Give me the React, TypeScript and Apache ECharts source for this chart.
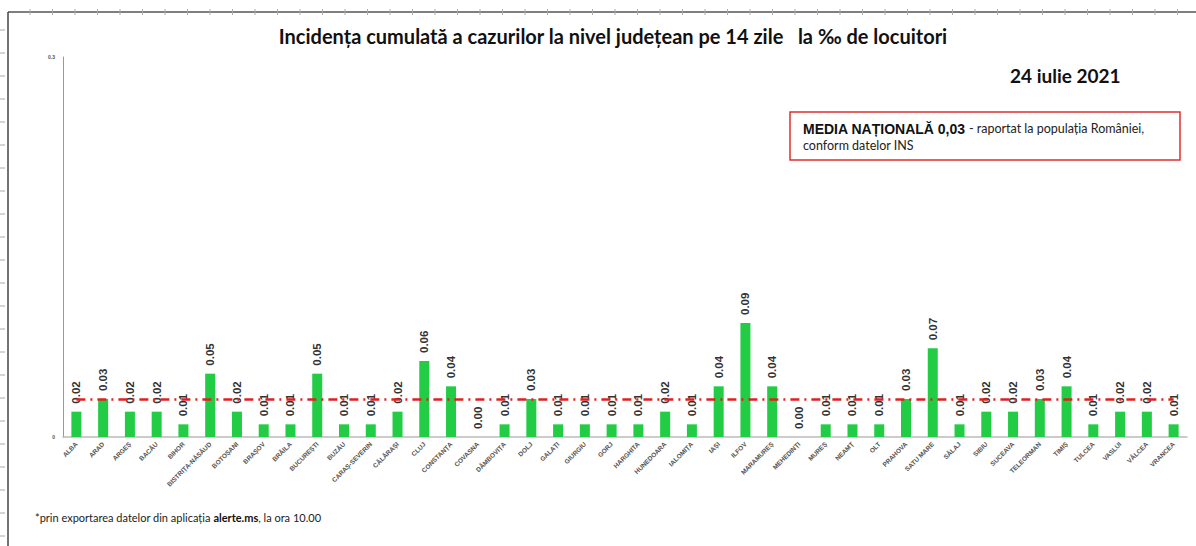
import React, { useEffect, useRef } from "react";
import * as echarts from "echarts";

const counties = [
  "ALBA", "ARAD", "ARGEȘ", "BACĂU", "BIHOR", "BISTRIȚA-NĂSĂUD", "BOTOȘANI", "BRAȘOV", "BRĂILA",
  "BUCUREȘTI", "BUZĂU", "CARAȘ-SEVERIN", "CĂLĂRAȘI", "CLUJ", "CONSTANȚA", "COVASNA", "DÂMBOVIȚA",
  "DOLJ", "GALAȚI", "GIURGIU", "GORJ", "HARGHITA", "HUNEDOARA", "IALOMIȚA", "IAȘI", "ILFOV",
  "MARAMUREȘ", "MEHEDINȚI", "MUREȘ", "NEAMȚ", "OLT", "PRAHOVA", "SATU MARE", "SĂLAJ", "SIBIU",
  "SUCEAVA", "TELEORMAN", "TIMIȘ", "TULCEA", "VASLUI", "VÂLCEA", "VRANCEA",
];

const incidence = [
  0.02, 0.03, 0.02, 0.02, 0.01, 0.05, 0.02, 0.01, 0.01,
  0.05, 0.01, 0.01, 0.02, 0.06, 0.04, 0.0, 0.01,
  0.03, 0.01, 0.01, 0.01, 0.01, 0.02, 0.01, 0.04, 0.09,
  0.04, 0.0, 0.01, 0.01, 0.01, 0.03, 0.07, 0.01, 0.02,
  0.02, 0.03, 0.04, 0.01, 0.02, 0.02, 0.01,
];

const nationalMean = 0.03;
const yTicks = { min: 0, max: 0.3, interval: 0.3 };

const titleText = "Incidența cumulată a cazurilor la nivel județean pe 14 zile   la ‰ de locuitori";
const dateText = "24 iulie 2021";

export default function App() {
  const ref = useRef<HTMLDivElement>(null);
  useEffect(() => {
    if (!ref.current) return;
    const chart = echarts.init(ref.current, null, { renderer: "svg" });

    const rulerTicks: any[] = [];
    for (let x = 30; x < 1196; x += 22.5) {
      rulerTicks.push({ type: "line", silent: true, shape: { x1: x, y1: 9, x2: x, y2: 15 }, style: { stroke: "#aaa", lineWidth: 1 } });
    }
    for (let y = 30; y < 546; y += 23) {
      rulerTicks.push({ type: "line", silent: true, shape: { x1: 0, y1: y, x2: 5, y2: y }, style: { stroke: "#aaa", lineWidth: 1 } });
    }

    chart.setOption({
      animation: false,
      backgroundColor: "#fff",
      title: {
        text: titleText,
        left: 608,
        textAlign: "center",
        top: 21,
        textStyle: { fontFamily: "Lato", fontWeight: "bold", fontSize: 20, color: "#111" },
      },
      grid: { left: 63, right: 9, top: 57, bottom: 109, containLabel: false },
      xAxis: {
        type: "category",
        data: counties,
        axisLine: { show: true, lineStyle: { color: "#bbb", width: 1.5 } },
        axisTick: { show: false },
        axisLabel: {
          rotate: 45,
          interval: 0,
          fontSize: 6.5,
          fontWeight: "bold",
          fontFamily: "Liberation Sans",
          color: "#555",
          margin: 6,
        },
      },
      yAxis: {
        type: "value",
        min: yTicks.min,
        max: yTicks.max,
        interval: yTicks.interval,
        axisLine: { show: true, lineStyle: { color: "#999", width: 1 } },
        axisTick: { show: false },
        splitLine: { show: false },
        axisLabel: { fontSize: 5, color: "#555", fontWeight: "bold", margin: 8, formatter: (v: number) => String(v) },
      },
      series: [
        {
          type: "bar",
          data: incidence,
          barWidth: 10,
          itemStyle: { color: "#22cc44" },
          label: {
            show: true,
            position: "top",
            rotate: 90,
            align: "left",
            verticalAlign: "middle",
            distance: 8,
            fontSize: 11.5,
            fontWeight: "bold",
            fontFamily: "Liberation Sans",
            color: "#333",
            formatter: (p: any) => Number(p.value).toFixed(2),
          },
          markLine: {
            silent: true,
            symbol: "none",
            label: { show: false },
            lineStyle: { color: "#e02020", width: 2.5, type: [9, 5, 2, 5] },
            data: [[{ coord: [0, nationalMean] }, { coord: [counties.length - 1, nationalMean] }]],
          },
        },
      ],
      graphic: [
        { type: "line", silent: true, shape: { x1: 8, y1: 12, x2: 1196, y2: 12 }, style: { stroke: "#555", lineWidth: 1.5 } },
        { type: "line", silent: true, shape: { x1: 8, y1: 12, x2: 8, y2: 546 }, style: { stroke: "#444", lineWidth: 1.5 } },
        ...rulerTicks,
        {
          type: "text",
          left: 1010,
          top: 66,
          style: { text: dateText, fontFamily: "Lato", fontWeight: "bold", fontSize: 19, fill: "#111" },
        },
        {
          type: "rect",
          shape: { x: 790, y: 112, width: 390, height: 48 },
          style: { fill: "#fff", stroke: "#e03030", lineWidth: 1.5 },
        },
        {
          type: "text",
          x: 803,
          y: 120,
          style: {
            text: "{b|MEDIA NAȚIONALĂ 0,03} {n|- raportat la populația României,}\n{n|conform datelor INS}",
            rich: {
              b: { fontFamily: "Liberation Sans", fontWeight: "bold", fontSize: 14, fill: "#111", lineHeight: 17 },
              n: { fontFamily: "Lato", fontSize: 12.5, fill: "#222", lineHeight: 17 },
            },
          },
        },
        {
          type: "text",
          x: 35,
          y: 512,
          style: {
            text: "{n|*prin exportarea datelor din aplicația }{b|alerte.ms}{n|, la ora 10.00}",
            rich: {
              n: { fontFamily: "Lato", fontSize: 11, fill: "#222" },
              b: { fontFamily: "Lato", fontSize: 11, fontWeight: "bold", fill: "#111" },
            },
          },
        },
      ],
    });
    return () => chart.dispose();
  }, []);
  return <div ref={ref} style={{ width: 1196, height: 546, position: "absolute", left: 0, top: 0 }} />;
}
